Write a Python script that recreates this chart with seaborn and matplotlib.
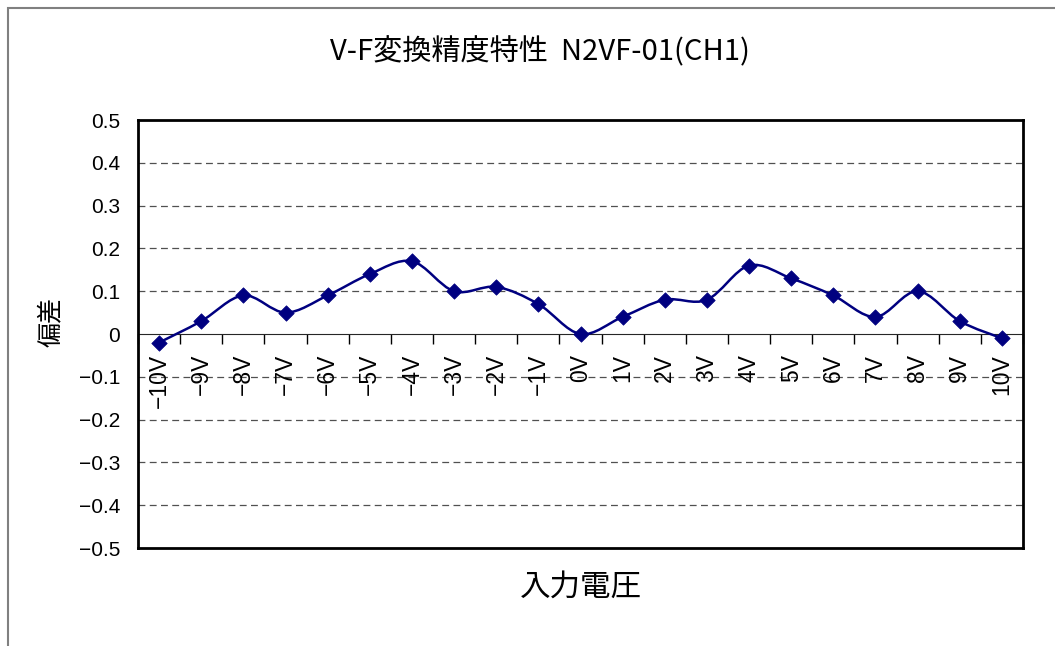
import numpy as np
import pandas as pd
import matplotlib
matplotlib.use("Agg")
import matplotlib.pyplot as plt
from matplotlib.path import Path
from matplotlib.patches import PathPatch, Rectangle
from matplotlib.transforms import offset_copy
import seaborn as sns

# -----------------------------------------------------
# data
# -----------------------------------------------------
voltage_labels = ['−10V', '−9V', '−8V', '−7V', '−6V', '−5V', '−4V', '−3V', '−2V', '−1V', '0V',
                  '1V', '2V', '3V', '4V', '5V', '6V', '7V', '8V', '9V', '10V']
deviation = [-0.02, 0.03, 0.09, 0.05, 0.09, 0.14, 0.17, 0.10, 0.11, 0.07, 0.00,
             0.04, 0.08, 0.08, 0.16, 0.13, 0.09, 0.04, 0.10, 0.03, -0.01]
y_ticks = [0.5, 0.4, 0.3, 0.2, 0.1, 0, -0.1, -0.2, -0.3, -0.4, -0.5]
y_tick_labels = ['0.5', '0.4', '0.3', '0.2', '0.1', '0',
                 '−0.1', '−0.2', '−0.3', '−0.4', '−0.5']

title = 'V-F変換精度特性  N2VF-01(CH1)'
x_title = '入力電圧'
y_title = '偏差'

NAVY = '#000080'

df = pd.DataFrame({'pos': np.arange(len(voltage_labels)), 'dev': deviation})

sns.set_style("white")
plt.rcParams['font.family'] = ['Liberation Sans', 'Noto Sans CJK JP', 'DejaVu Sans']
plt.rcParams['text.color'] = 'black'
plt.rcParams['axes.labelcolor'] = 'black'
plt.rcParams['ytick.color'] = 'black'
plt.rcParams['xtick.color'] = 'black'

fig = plt.figure(figsize=(10.55, 6.46), dpi=100)
ax = fig.add_axes([138 / 1055, 1 - 548 / 646, 885 / 1055, 428 / 646])

# outer chart-area frame (runs off the right/bottom edge like the original)
fig.patches.append(Rectangle((8 / 1055, -0.1), 1.2, 1.1 - 8 / 646,
                             transform=fig.transFigure, fill=False,
                             edgecolor='#808080', lw=1.5))

# -----------------------------------------------------
# smoothed line (Excel style bezier through the points)
# -----------------------------------------------------
pts = df[['pos', 'dev']].to_numpy(dtype=float)
verts = [tuple(pts[0])]
codes = [Path.MOVETO]
n = len(pts)
for i in range(n - 1):
    p0 = pts[max(i - 1, 0)]
    p1 = pts[i]
    p2 = pts[i + 1]
    p3 = pts[min(i + 2, n - 1)]
    c1 = p1 + (p2 - p0) / 6.0
    c2 = p2 - (p3 - p1) / 6.0
    verts += [tuple(c1), tuple(c2), tuple(p2)]
    codes += [Path.CURVE4] * 3
ax.add_patch(PathPatch(Path(verts, codes), fill=False, edgecolor=NAVY,
                       lw=1.8, transform=ax.transData, zorder=3))

sns.scatterplot(data=df, x='pos', y='dev', marker='D', s=62, color=NAVY,
                edgecolor=NAVY, linewidth=0.5, ax=ax, zorder=4, legend=False)

# -----------------------------------------------------
# axes styling
# -----------------------------------------------------
ax.set_xlim(-0.5, len(voltage_labels) - 0.5)
ax.set_ylim(-0.5, 0.5)
ax.set_yticks(y_ticks)
ax.set_yticklabels(y_tick_labels)
ax.tick_params(axis='y', length=0, pad=13, labelsize=15, labelcolor='black')
ax.tick_params(axis='x', bottom=False, labelbottom=False)

for yv in y_ticks:
    if yv not in (0.5, 0, -0.5):
        ax.axhline(yv, color='#505050', lw=0.9, ls=(0, (5.5, 3.5)), zorder=1)

for sp in ax.spines.values():
    sp.set_visible(True)
    sp.set_color('black')
    sp.set_linewidth(2)

# category axis drawn at y = 0 (tick marks between categories, pointing up)
sec = ax.secondary_xaxis(0.5)
sec.set_xticks([])
sec.set_xticks(np.arange(-0.5, len(voltage_labels), 1), minor=True)
sec.tick_params(axis='x', which='minor', length=7, direction='in', width=1,
                color='black', labelbottom=False)
sec.spines['bottom'].set_linewidth(1.2)
sec.spines['bottom'].set_color('black')

# category labels, rotated, hanging just under the zero line
lab_trans = offset_copy(ax.transData, fig=fig, y=-20, units='dots')
for p, lab in zip(df['pos'], voltage_labels):
    ax.text(p, 0, lab, rotation=90, ha='center', va='top', fontsize=16.5,
            color='black', transform=lab_trans, zorder=5)

ax.set_xlabel(x_title, fontsize=22, va='center', color='black')
ax.xaxis.set_label_coords(0.5, -0.093)
ax.set_ylabel(y_title, fontsize=18, va='center', color='black')
ax.yaxis.set_label_coords(-0.099, 0.528)

fig.text(540 / 1055, 1 - 52 / 646, title, fontsize=21, ha='center', va='center',
         color='black', family=['Noto Sans CJK JP', 'DejaVu Sans'])

fig.savefig('out.png', dpi=100)
